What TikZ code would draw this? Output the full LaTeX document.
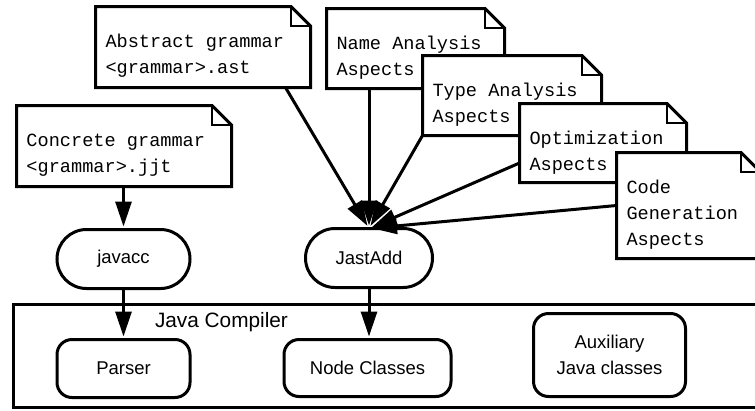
\documentclass[tikz,border=0pt]{standalone}
\usepackage{fontspec}
\setmainfont{Liberation Sans}
\newfontfamily\monof{Liberation Mono}
\usetikzlibrary{arrows.meta,calc}
\newcommand\mynote[7]{%
  \node[noteframe, minimum width=#4pt, minimum height=#5pt] (#1) at (#2,#3) {};
  \filldraw[ln, fill=white, line join=miter] (#1.north west) -- ([xshift=-19.5pt]#1.north east) -- ([yshift=-19.5pt]#1.north east) -- (#1.south east) -- (#1.south west) -- cycle;
  \draw[fold] ([xshift=-19.5pt]#1.north east) |- ([yshift=-19.5pt]#1.north east);
  \node[notetext] (#1-t) at ([xshift=10pt,yshift=-#6pt]#1.north west) {#7};
}
\begin{document}
\begin{tikzpicture}[x=1pt,y=-1pt,
  every node/.style={outer sep=0pt},
  ln/.style={line width=3pt},
  arr/.style={line width=3pt, -{Triangle[length=25pt,width=16pt]}, shorten >=3pt},
  tool/.style={draw, line width=3pt, rounded corners=29.5pt, minimum height=59pt, font=\fontsize{18.5}{22}\selectfont, inner sep=0pt},
  part/.style={draw, line width=3pt, rounded corners=15pt, font=\fontsize{18.5}{26.5}\selectfont, align=center, inner sep=0pt},
  noteframe/.style={inner sep=0pt, anchor=north west},
  notetext/.style={anchor=base west, font=\monof\fontsize{18.6}{26}\selectfont, align=left, inner sep=0pt},
  fold/.style={line width=1.2pt},
]
\useasboundingbox (0,0) rectangle (755,410);
\clip (0,0) rectangle (755,410);
% Java compiler container
\node[draw, line width=3pt, anchor=north west, minimum width=790pt, minimum height=102.5pt, inner sep=0pt] (jc) at (13.5,304.5) {};
\node[anchor=base west, font=\fontsize{20.8}{24}\selectfont, inner sep=0pt] (jcl) at (155,327) {Java Compiler};
% notes (6th argument: depth of the last baseline below the top edge)
\mynote{abs}{95.5}{6.5}{215}{81}{67}{Abstract grammar\\<grammar>.ast}
\mynote{conc}{16.5}{105.5}{215}{81}{67}{Concrete grammar\\<grammar>.jjt}
\mynote{name}{326.5}{8.5}{178}{80}{67}{Name Analysis\\Aspects}
\mynote{type}{422.5}{55.5}{179}{80}{67}{Type Analysis\\Aspects}
\mynote{opt}{519.5}{103.5}{167}{79}{67}{Optimization\\Aspects}
\mynote{code}{616.5}{152.5}{144}{106}{93}{Code\\Generation\\Aspects}
% tools
\node[tool, minimum width=133pt] (javacc) at (123.5,259) {javacc};
\node[tool, minimum width=127pt] (jast) at (369,258) {JastAdd};
% parts
\node[part, minimum width=133pt, minimum height=58pt] (parser) at (123.5,368.5) {Parser};
\node[part, minimum width=167pt, minimum height=57pt] (ncls) at (367.5,368) {Node Classes};
\node[part, minimum width=152pt, minimum height=83pt] (aux) at (609.5,355) {Auxiliary\\Java classes};
% arrows
\draw[arr] (conc.south -| javacc.north) -- (javacc.north);
\draw[arr] (javacc.south) -- (parser.north);
\draw[arr] ([xshift=-25pt]abs.south east) -- (jast.north);
\draw[arr] (name.south -| jast.north) -- (jast.north);
\draw[arr] (type.south west) -- (jast.north);
\draw[arr] ([yshift=-20pt]opt.west) -- (jast.north);
\draw[arr] (code.west) -- (jast.north);
\draw[arr] (jast.south) -- (ncls.north -| jast.south);
\end{tikzpicture}
\end{document}
